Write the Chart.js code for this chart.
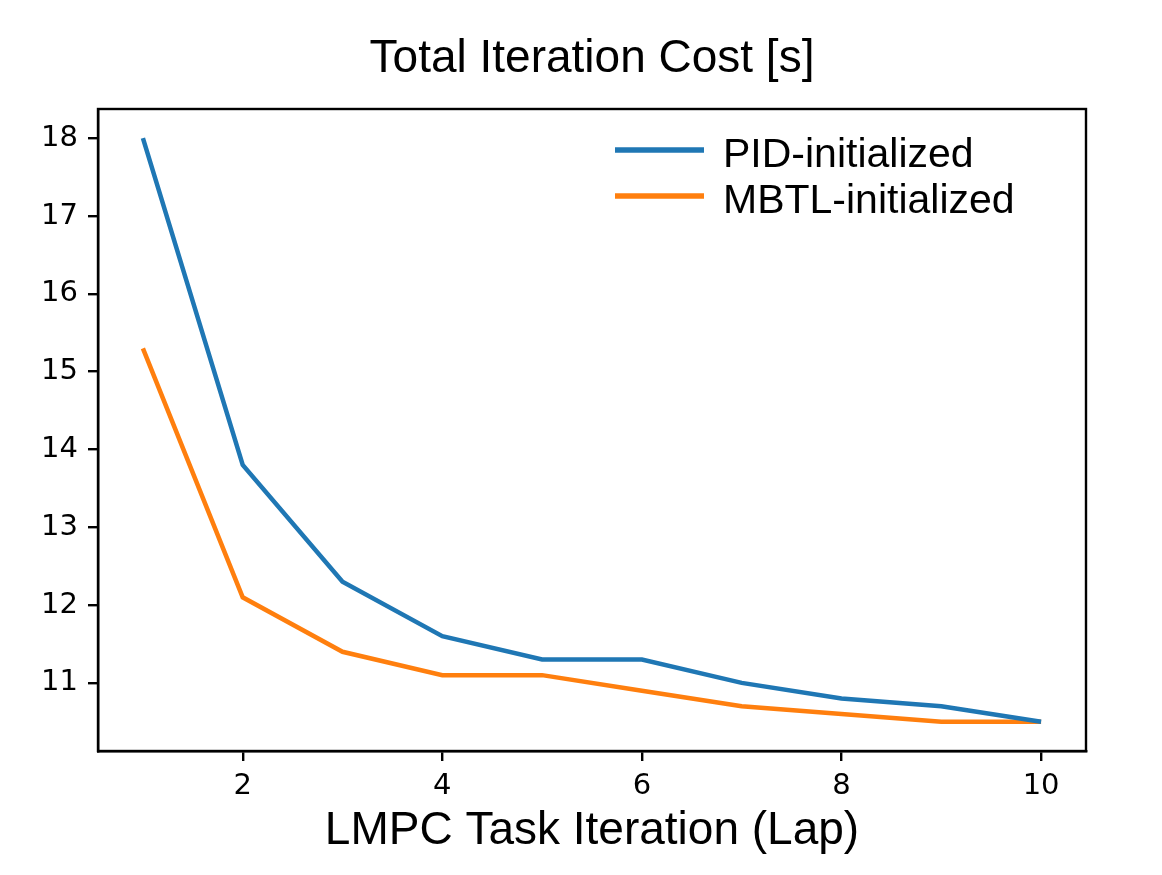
<!DOCTYPE html>
<html>
<head>
<meta charset="utf-8">
<script src="https://cdn.jsdelivr.net/npm/chart.js@4/dist/chart.umd.min.js"></script>
<style>
  html, body { margin: 0; padding: 0; background: #fff; }
  #wrap { width: 1162px; height: 875px; }
</style>
</head>
<body>
<div id="wrap"><canvas id="chart-cost" width="1162" height="875"></canvas></div>
<script>
// data
const laps = [1, 2, 3, 4, 5, 6, 7, 8, 9, 10];
const pidCost  = [18.0, 13.8, 12.3, 11.6, 11.3, 11.3, 11.0, 10.8, 10.7, 10.5];
const mbtlCost = [15.3, 12.1, 11.4, 11.1, 11.1, 10.9, 10.7, 10.6, 10.5, 10.5];
const xTicks = [2, 4, 6, 8, 10];
const yTicks = [11, 12, 13, 14, 15, 16, 17, 18];
const chartTitle = "Total Iteration Cost [s]";

const BLUE = "#1f77b4";
const ORANGE = "#ff7f0e";
const SANS = "'Liberation Sans', Arial, sans-serif";
const TICKFONT = "'DejaVu Sans', sans-serif";

function toPoints(ys) {
  return laps.map((x, i) => ({ x: x, y: ys[i] }));
}

// box around the plot, title centred over the axes, legend inside (like matplotlib)
const frameAndLegend = {
  id: "frameAndLegend",
  afterDatasetsDraw(chart) {
    const { ctx, chartArea } = chart;
    ctx.save();
    ctx.strokeStyle = "#000";
    ctx.lineWidth = 2.4;
    ctx.strokeRect(chartArea.left, chartArea.top,
                   chartArea.right - chartArea.left, chartArea.bottom - chartArea.top);

    // title
    ctx.fillStyle = "#000";
    ctx.font = "46px " + SANS;
    ctx.textAlign = "center";
    ctx.textBaseline = "alphabetic";
    ctx.fillText(chartTitle, (chartArea.left + chartArea.right) / 2, chartArea.top - 37);

    // legend
    const x0 = chartArea.right - 471;
    const x1 = chartArea.right - 382;
    const tx = chartArea.right - 363;
    const rows = [chartArea.top + 41, chartArea.top + 87];
    ctx.font = "41px " + SANS;
    ctx.textAlign = "left";
    chart.data.datasets.forEach((ds, i) => {
      ctx.strokeStyle = ds.borderColor;
      ctx.lineWidth = 5.5;
      ctx.beginPath();
      ctx.moveTo(x0, rows[i]);
      ctx.lineTo(x1, rows[i]);
      ctx.stroke();
      ctx.fillStyle = "#000";
      ctx.fillText(ds.label, tx, rows[i] + 17);
    });
    ctx.restore();
  }
};

const canvas = document.getElementById("chart-cost");
const costChart = new Chart(canvas.getContext("2d"), {
  type: "line",
  data: {
    datasets: [
      { label: "PID-initialized", data: toPoints(pidCost), borderColor: BLUE,
        borderWidth: 4.5, pointRadius: 0, tension: 0, fill: false },
      { label: "MBTL-initialized", data: toPoints(mbtlCost), borderColor: ORANGE,
        borderWidth: 4.5, pointRadius: 0, tension: 0, fill: false }
    ]
  },
  options: {
    responsive: false,
    animation: false,
    devicePixelRatio: 1,
    layout: { padding: { left: 0, right: 76, top: 109, bottom: 0 } },
    plugins: {
      legend: { display: false },
      tooltip: { enabled: false },
      title: { display: false }
    },
    scales: {
      x: {
        type: "linear",
        min: 0.55,
        max: 10.45,
        afterBuildTicks: (scale) => { scale.ticks = xTicks.map(v => ({ value: v })); },
        afterFit: (scale) => { scale.height = 124; },
        grid: { drawOnChartArea: false, drawTicks: true, tickLength: 10, color: "#000", lineWidth: 2.4 },
        border: { display: true, color: "#000", width: 2.4 },
        ticks: { color: "#000", font: { family: TICKFONT, size: 29 }, padding: 8, maxRotation: 0 },
        title: {
          display: true,
          text: "LMPC Task Iteration (Lap)",
          color: "#000",
          font: { family: SANS, size: 46 },
          padding: { top: 0, bottom: 16 }
        }
      },
      y: {
        min: 10.125,
        max: 18.375,
        afterBuildTicks: (scale) => { scale.ticks = yTicks.map(v => ({ value: v })); },
        afterFit: (scale) => { scale.width = 98; },
        grid: { drawOnChartArea: false, drawTicks: true, tickLength: 10, color: "#000", lineWidth: 2.4 },
        border: { display: true, color: "#000", width: 2.4 },
        ticks: { color: "#000", font: { family: TICKFONT, size: 29 }, padding: 10 }
      }
    }
  },
  plugins: [frameAndLegend]
});
</script>
</body>
</html>
